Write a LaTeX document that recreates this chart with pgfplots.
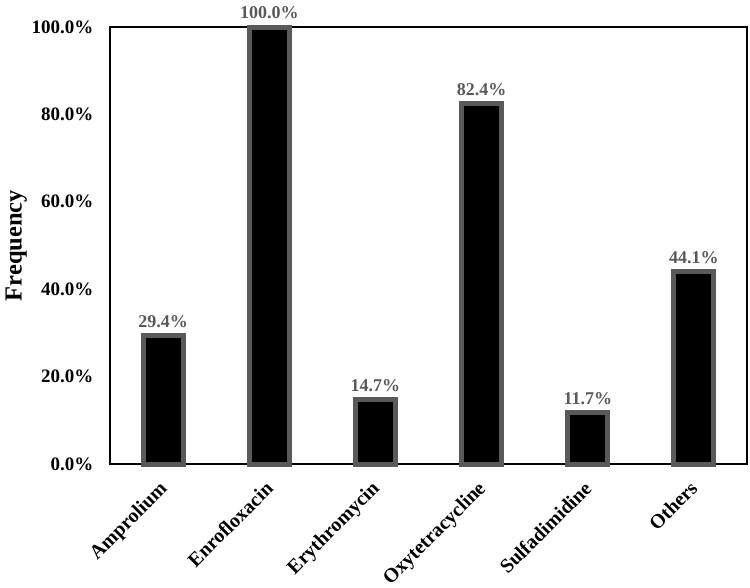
\documentclass[border=0pt]{standalone}
\usepackage{fontspec}
\setmainfont{Liberation Serif}
\usepackage{pgfplots}
\pgfplotsset{compat=1.18}
\usetikzlibrary{calc}
\definecolor{bargray}{HTML}{595959}
\definecolor{labgray}{HTML}{595959}
\begin{document}
\begin{tikzpicture}
\begin{axis}[
  name=a,
  scale only axis,
  width=637pt, height=437pt,
  xmin=-0.5, xmax=5.5,
  ymin=0, ymax=100,
  axis line style={line width=1.3pt},
  xtick={0,1,2,3,4,5},
  xticklabels={Amprolium,Enrofloxacin,Erythromycin,Oxytetracycline,Sulfadimidine,Others},
  ytick={0,20,40,60,80,100},
  yticklabels={0.0\%,20.0\%,40.0\%,60.0\%,80.0\%,100.0\%},
  major tick length=0pt,
  /pgf/number format/assume math mode=true,
  yticklabel style={font=\fontsize{19}{21}\selectfont\bfseries, xshift=-13pt},
  xticklabel style={font=\fontsize{20}{22}\selectfont\bfseries, xshift=-5pt, yshift=-11pt, rotate=45, anchor=north east},
  ylabel={Frequency},
  ylabel style={font=\fontsize{24.5}{26}\selectfont\bfseries, yshift=-2pt},
  nodes near coords={\pgfmathprintnumber[fixed,fixed zerofill,precision=1]{\pgfplotspointmeta}\%},
  nodes near coords style={font=\fontsize{18}{20}\selectfont\bfseries, text=labgray, yshift=2pt},
  clip=false,
]
\addplot[ybar, bar width=40pt, fill=black, draw=bargray, line width=5pt] coordinates {
(0,29.4) (1,100.0) (2,14.7) (3,82.4) (4,11.7) (5,44.1)
};
\end{axis}
\pgfresetboundingbox
\useasboundingbox ($(a.south west)+(-110pt,-123pt)$) rectangle ($(a.north east)+(3pt,27pt)$);
\end{tikzpicture}
\end{document}
